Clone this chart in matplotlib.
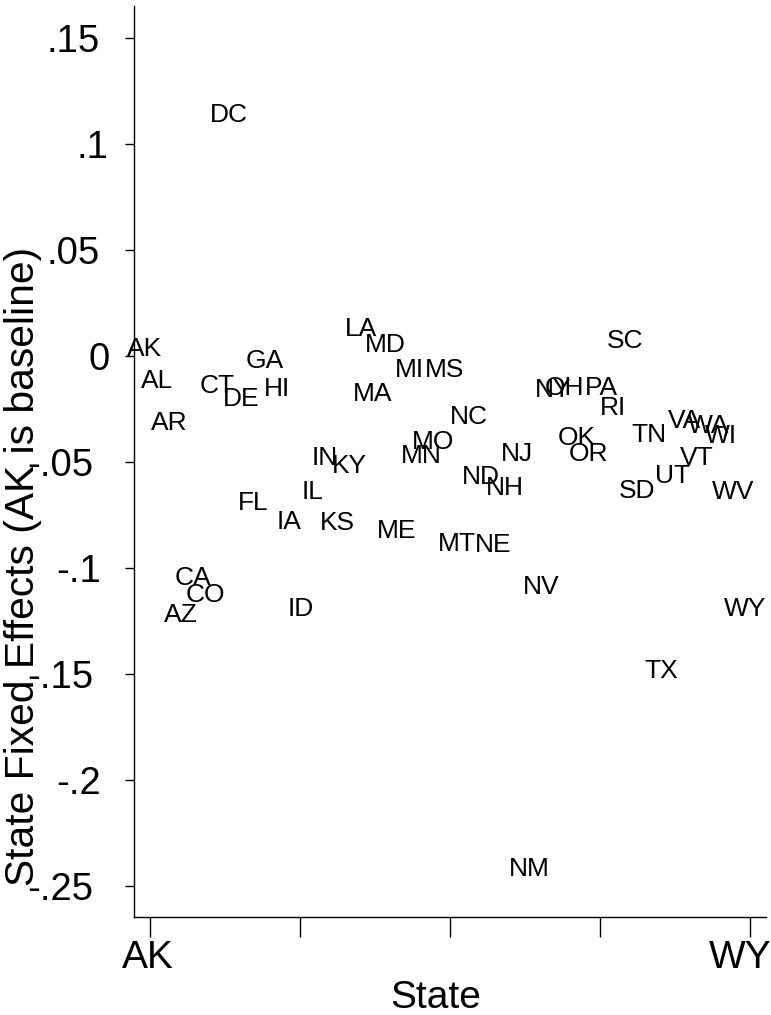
import matplotlib
matplotlib.use('Agg')
import matplotlib.pyplot as plt
import matplotlib.transforms as mtransforms
import numpy as np

# ---------------- data ----------------
states = ["AK", "AL", "AR", "AZ", "CA", "CO", "CT", "DC", "DE", "FL",
          "GA", "HI", "IA", "ID", "IL", "IN", "KS", "KY", "LA", "MA",
          "MD", "ME", "MI", "MN", "MO", "MS", "MT", "NC", "ND", "NE",
          "NH", "NJ", "NM", "NV", "NY", "OH", "OK", "OR", "PA", "RI",
          "SC", "SD", "TN", "TX", "UT", "VA", "VT", "WA", "WI", "WV", "WY"]
effects = [0.0000, -0.0150, -0.0349, -0.1255, -0.1080, -0.1160, -0.0175, 0.1104, -0.0236, -0.0726,
           -0.0057, -0.0189, -0.0816, -0.1226, -0.0675, -0.0514, -0.0821, -0.0552, 0.0094, -0.0212,
           0.0019, -0.0858, -0.0099, -0.0505, -0.0439, -0.0099, -0.0922, -0.0321, -0.0604, -0.0927,
           -0.0656, -0.0495, -0.2453, -0.1123, -0.0193, -0.0184, -0.0420, -0.0495, -0.0184, -0.0278,
           0.0038, -0.0670, -0.0406, -0.1519, -0.0599, -0.0340, -0.0514, -0.0363, -0.0410, -0.0675, -0.1226]
ytick_values = [0.15, 0.10, 0.05, 0.0, -0.05, -0.10, -0.15, -0.20, -0.25]
ytick_labels = [".15", ".1", ".05", "0", "-.05", "-.1", "-.15", "-.2", "-.25"]
xtick_positions = [1, 13.5, 26, 38.5, 51]
xtick_labels = ["AK", "", "", "", "WY"]
xlabel = "State"
ylabel = "State Fixed Effects (AK is baseline)"

# ---------------- style ----------------
plt.rcParams['font.family'] = ['Liberation Sans', 'DejaVu Sans']
W, H = 771, 1015
fig = plt.figure(figsize=(W / 100, H / 100), dpi=100)
ax = fig.add_axes([134 / W, 98 / H, 632 / W, 911 / H])

x = np.arange(1, len(states) + 1)
ax.set_xlim(-1 / 3, 52 + 1 / 3)
ax.set_ylim(-0.2646, 0.1650)

ax.scatter(x, effects, s=0, alpha=0)

lab_off = mtransforms.ScaledTranslation(-5 / 100, 0, fig.dpi_scale_trans)
for xi, yi, s in zip(x, effects, states):
    ax.text(xi, yi, s, ha='center', va='baseline', fontsize=19,
            color='black', transform=ax.transData + lab_off)

for side in ['top', 'right']:
    ax.spines[side].set_visible(False)
for side in ['left', 'bottom']:
    ax.spines[side].set_linewidth(1.0)
    ax.spines[side].set_color('black')

ax.set_yticks(ytick_values)
ax.tick_params(axis='y', direction='out', length=6.5, width=1.0,
               labelleft=False)
ax.set_xticks(xtick_positions)
ax.set_xticklabels(xtick_labels, fontsize=28)
ax.tick_params(axis='x', direction='out', length=14.4, width=1.0, pad=2.5)

# shift the extreme x tick labels slightly so they sit like the original
xt_labels = ax.get_xticklabels()
xt_labels[0].set_transform(xt_labels[0].get_transform() +
                           mtransforms.ScaledTranslation(-2 / 100, 0, fig.dpi_scale_trans))
xt_labels[-1].set_transform(xt_labels[-1].get_transform() +
                            mtransforms.ScaledTranslation(-10 / 100, 0, fig.dpi_scale_trans))

# y tick labels, placed like the original (estimated-width right alignment)
char_w = {'.': 12.3, '-': 19.3}
digit_w = 29.3
right_ref = 117.6
ylab_tr = mtransforms.blended_transform_factory(fig.dpi_scale_trans, ax.transData) + \
    mtransforms.ScaledTranslation(0, -14 / 100, fig.dpi_scale_trans)
for v, lab in zip(ytick_values, ytick_labels):
    left = right_ref - sum(char_w.get(c, digit_w) for c in lab)
    ax.text(left / 100, v, lab, ha='left', va='baseline', fontsize=27.5,
            transform=ylab_tr, clip_on=False)

fig.text(23 / W, (H - 566) / H, ylabel, rotation=90, ha='center', va='center',
         fontsize=29.3)
fig.text(436 / W, (H - 1008) / H, xlabel, ha='center', va='baseline', fontsize=28)

fig.savefig('out.png', dpi=100)
